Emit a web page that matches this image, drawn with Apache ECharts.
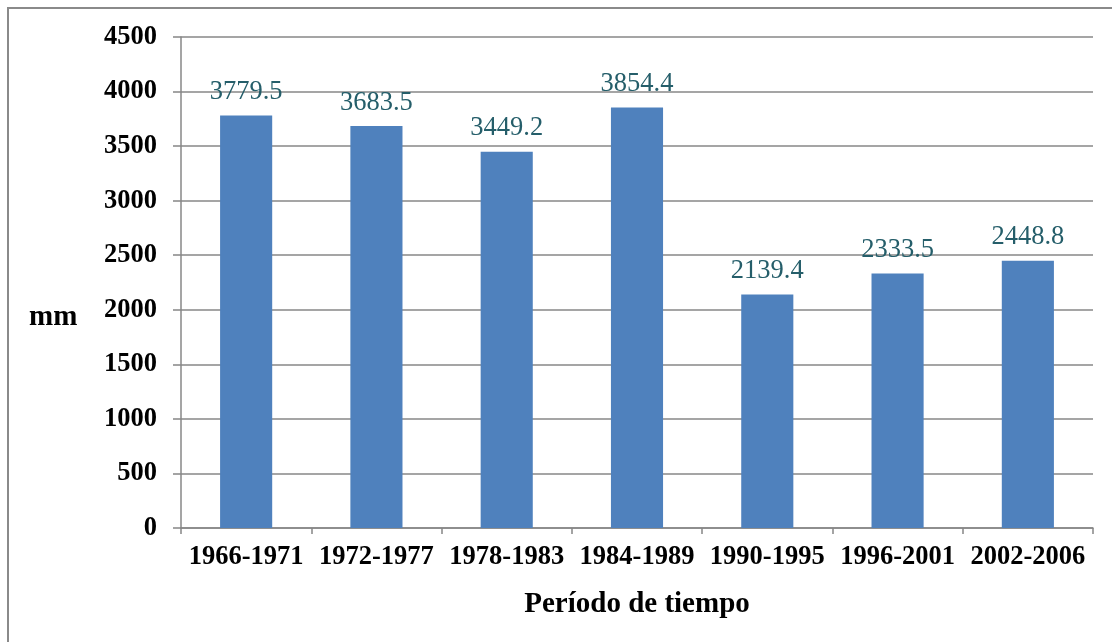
<!DOCTYPE html>
<html>
<head>
<meta charset="utf-8">
<script src="https://cdn.jsdelivr.net/npm/echarts@6/dist/echarts.min.js"></script>
<style>
  html, body { margin: 0; padding: 0; background: #fff; }
  #frame { position: absolute; left: 7px; top: 7px; width: 1105px; height: 635px;
           border-left: 2px solid #8a8a8a; border-top: 2px solid #8a8a8a; box-sizing: border-box; }
  #chart { position: absolute; left: 0; top: 0; width: 1112px; height: 642px; }
</style>
</head>
<body>
<div id="frame"></div>
<div id="chart"></div>
<script>
const periods = ['1966-1971', '1972-1977', '1978-1983', '1984-1989', '1990-1995', '1996-2001', '2002-2006']
const rainfall = [3779.5, 3683.5, 3449.2, 3854.4, 2139.4, 2333.5, 2448.8]

const serif = '"Liberation Serif", "Times New Roman", serif'
const gray = '#878787'

const chart = echarts.init(document.getElementById('chart'))
chart.setOption({
  animation: false,
  grid: { left: 181, right: 19, top: 37, bottom: 114 },
  graphic: [{
    type: 'text', left: 29, top: 303,
    style: { text: 'mm', font: 'bold 29px ' + serif, fill: '#000' },
  }],
  xAxis: {
    type: 'category',
    data: periods,
    name: 'Período de tiempo',
    nameLocation: 'middle',
    nameGap: 62,
    nameTextStyle: { fontFamily: serif, fontWeight: 'bold', fontSize: 29, color: '#000' },
    axisLine: { lineStyle: { color: gray, width: 1.5 } },
    axisTick: { show: true, length: 6, lineStyle: { color: gray, width: 1.5 } },
    axisLabel: { fontFamily: serif, fontWeight: 'bold', fontSize: 26.5, color: '#000', margin: 16, interval: 0 },
  },
  yAxis: {
    type: 'value',
    min: 0, max: 4500, interval: 500,
    axisLine: { show: true, lineStyle: { color: gray, width: 1.5 } },
    axisTick: { show: true, length: 8, lineStyle: { color: gray, width: 1.5 } },
    axisLabel: {
      fontFamily: serif, fontWeight: 'bold', fontSize: 26.5, color: '#000', margin: 24,
      formatter: v => String(v),
    },
    splitLine: { lineStyle: { color: gray, width: 1.5 } },
  },
  series: [{
    type: 'bar',
    data: rainfall,
    barWidth: '40%',
    itemStyle: { color: '#4F81BD' },
    label: {
      show: true, position: 'top', distance: 10,
      fontFamily: serif, fontSize: 26.5, color: '#255E6A',
      formatter: p => p.value.toFixed(1),
    },
  }],
})
</script>
</body>
</html>
